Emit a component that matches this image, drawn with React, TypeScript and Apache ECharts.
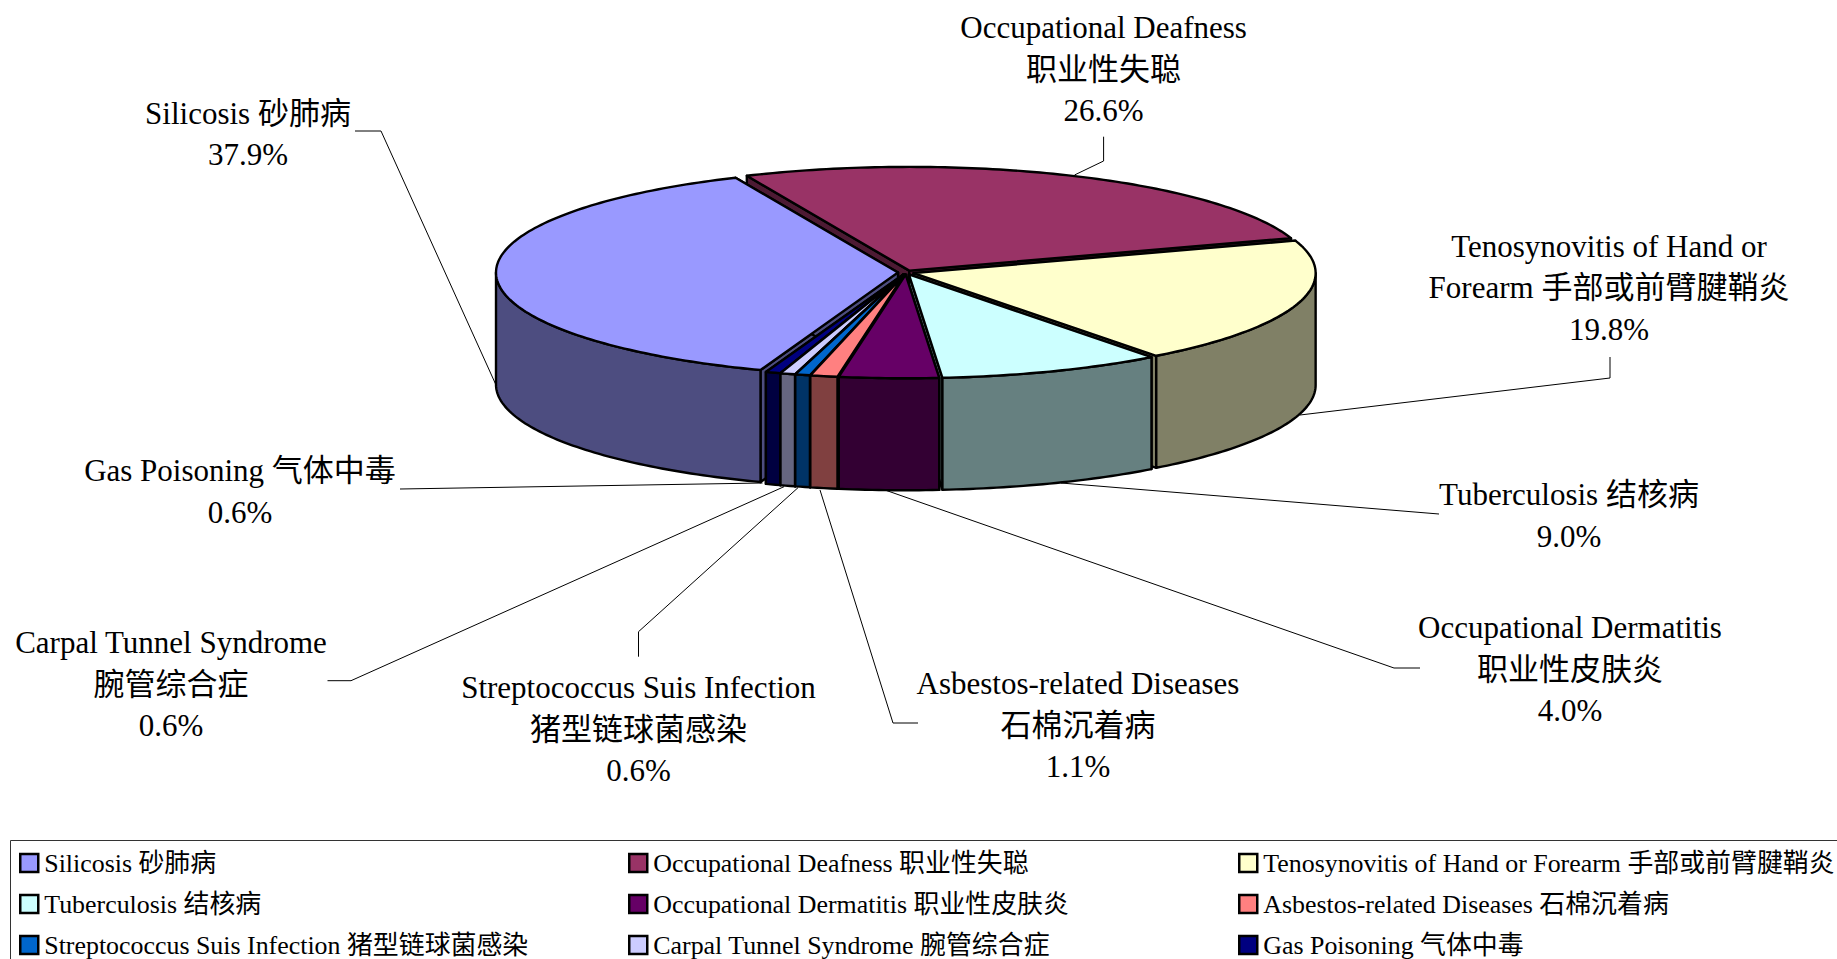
import React, { useEffect, useRef } from "react";
import * as echarts from "echarts";

const categories = [
  "Silicosis 砂肺病",
  "Occupational Deafness 职业性失聪",
  "Tenosynovitis of Hand or Forearm 手部或前臂腱鞘炎",
  "Tuberculosis 结核病",
  "Occupational Dermatitis 职业性皮肤炎",
  "Asbestos-related Diseases 石棉沉着病",
  "Streptococcus Suis Infection 猪型链球菌感染",
  "Carpal Tunnel Syndrome 腕管综合症",
  "Gas Poisoning 气体中毒",
];
const values = [37.9, 26.6, 19.8, 9.0, 4.0, 1.1, 0.6, 0.6, 0.6];
const labelLines = [
  ["Silicosis 砂肺病"],
  ["Occupational Deafness", "职业性失聪"],
  ["Tenosynovitis of Hand or", "Forearm 手部或前臂腱鞘炎"],
  ["Tuberculosis 结核病"],
  ["Occupational Dermatitis", "职业性皮肤炎"],
  ["Asbestos-related Diseases", "石棉沉着病"],
  ["Streptococcus Suis Infection", "猪型链球菌感染"],
  ["Carpal Tunnel Syndrome", "腕管综合症"],
  ["Gas Poisoning 气体中毒"],
];
const topColors = ["#9999FF", "#993366", "#FFFFCC", "#CCFFFF", "#660066", "#FF8080", "#0066CC", "#CCCCFF", "#000080"];
const sideColors = ["#4D4D80", "#4D1A33", "#808066", "#668080", "#330033", "#804040", "#003366", "#666680", "#000040"];

// Layout (pixels)
const CX = 906, CY = 272.5, RX = 402, RY = 103.7, DEPTH = 112, EXPLODE = 8, START = 200;
const labelPos = [
  [248, 134], [1103.6, 69], [1609, 287.5], [1569, 515.5], [1570, 669], [1078, 725], [638.5, 729], [171, 684], [240, 491.5],
];
const leaders = [
  [[355, 131], [381, 131], [496, 385]],
  [[1103.6, 136.7], [1103.6, 161], [1074.5, 175]],
  [[1610, 357], [1610, 378], [1300, 415]],
  [[1439, 514], [1061, 483]],
  [[1420, 668], [1394, 668], [885, 490]],
  [[918, 723], [893, 723], [820, 490]],
  [[638.5, 656.7], [638.5, 631.7], [798, 487.7]],
  [[327.5, 680.7], [351, 680.7], [784, 486.7]],
  [[400, 489], [762.5, 483]],
];
const FONT = '"Liberation Serif", "Noto Sans CJK SC", serif';
const STROKE = { stroke: "#000", lineWidth: 2.4, lineJoin: "round" as const };

const total = values.reduce((a, b) => a + b, 0);
const spans = (() => {
  let s = START;
  return values.map((v) => {
    const e = s + (v / total) * 360;
    const r = { s, e, mid: (s + e) / 2 };
    s = e;
    return r;
  });
})();
const rad = (d: number) => (d * Math.PI) / 180;
// front half of the rim, clockwise from 3 o'clock to 9 o'clock, on both turns
const FRONT_RANGES = [[90, 270], [450, 630]];

function sliceElements(i: number) {
  const { s, e, mid } = spans[i];
  const ox = CX + EXPLODE * Math.sin(rad(mid));
  const oy = CY - EXPLODE * (RY / RX) * Math.cos(rad(mid));
  const pt = (a: number, h = 0) => [ox + RX * Math.sin(rad(a)), oy - RY * Math.cos(rad(a)) + h];
  const arc = (a0: number, a1: number, h = 0) => {
    const out: number[][] = [];
    const n = Math.max(2, Math.ceil(Math.abs(a1 - a0)));
    for (let k = 0; k <= n; k++) out.push(pt(a0 + ((a1 - a0) * k) / n, h));
    return out;
  };
  const apex = [ox, oy];
  const apexLow = [ox, oy + DEPTH];
  const poly = (points: number[][], fill: string) => ({
    type: "polygon",
    shape: { points },
    style: { fill, ...STROKE },
  });
  const children: any[] = [];
  children.push(poly([apex, pt(s), pt(s, DEPTH), apexLow], sideColors[i]));
  children.push(poly([apex, pt(e), pt(e, DEPTH), apexLow], sideColors[i]));
  for (const [f0, f1] of FRONT_RANGES) {
    const w0 = Math.max(s, f0), w1 = Math.min(e, f1);
    if (w0 < w1) children.push(poly([...arc(w0, w1), ...arc(w1, w0, DEPTH)], sideColors[i]));
  }
  children.push(poly([apex, ...arc(s, e)], topColors[i]));
  return { type: "group", children };
}

// back-to-front painting order
const paintOrder = values
  .map((_, i) => i)
  .sort((a, b) => -Math.cos(rad(spans[a].mid)) - -Math.cos(rad(spans[b].mid)));

const legendColumns = [
  { left: 19, items: [0, 3, 6] },
  { left: 628, items: [1, 4, 7] },
  { left: 1238, items: [2, 5, 8] },
];

export default function App() {
  const ref = useRef<HTMLDivElement>(null);
  useEffect(() => {
    const chart = echarts.init(ref.current!, undefined, { renderer: "svg" });
    const series = paintOrder.map((i, rank) => ({
      type: "custom",
      name: categories[i],
      coordinateSystem: "none",
      z: 2 + rank,
      silent: true,
      itemStyle: { color: topColors[i] },
      data: [values[i]],
      renderItem: () => sliceElements(i),
    }));
    const legends = legendColumns.map((c) => ({
      orient: "vertical",
      left: c.left,
      top: 849,
      height: 140,
      padding: 0,
      icon: "rect",
      itemWidth: 18,
      itemHeight: 18,
      itemGap: 13,
      selectedMode: false,
      textStyle: { fontFamily: FONT, fontSize: 25.9, lineHeight: 28, color: "#000", padding: [0, 0, 0, 1] },
      itemStyle: { borderColor: "#000", borderWidth: 2.5 },
      data: c.items.map((i) => ({ name: categories[i], itemStyle: { color: topColors[i], borderColor: "#000", borderWidth: 2.5 } })),
    }));
    const graphics: any[] = [
      {
        type: "rect",
        shape: { x: 10.5, y: 840.5, width: 2000, height: 300 },
        style: { fill: "none", stroke: "#333", lineWidth: 1 },
        z: 0,
      },
      ...leaders.map((points) => ({
        type: "polyline",
        shape: { points },
        style: { fill: "none", stroke: "#000", lineWidth: 1 },
        z: 0,
      })),
      ...labelLines.map((lines, i) => ({
        type: "text",
        x: labelPos[i][0],
        y: labelPos[i][1],
        z: 1,
        style: {
          text: [...lines, values[i].toFixed(1) + "%"].join("\n"),
          font: `31px ${FONT}`,
          fontFamily: FONT,
          fontSize: 31,
          lineHeight: 41.5,
          fill: "#000",
          align: "center",
          verticalAlign: "middle",
        },
      })),
    ];
    chart.setOption({
      animation: false,
      backgroundColor: "#fff",
      legend: legends,
      graphic: { elements: graphics },
      series,
    });
    return () => chart.dispose();
  }, []);
  return <div ref={ref} style={{ position: "absolute", left: 0, top: 0, width: 1837, height: 959, overflow: "hidden" }} />;
}
